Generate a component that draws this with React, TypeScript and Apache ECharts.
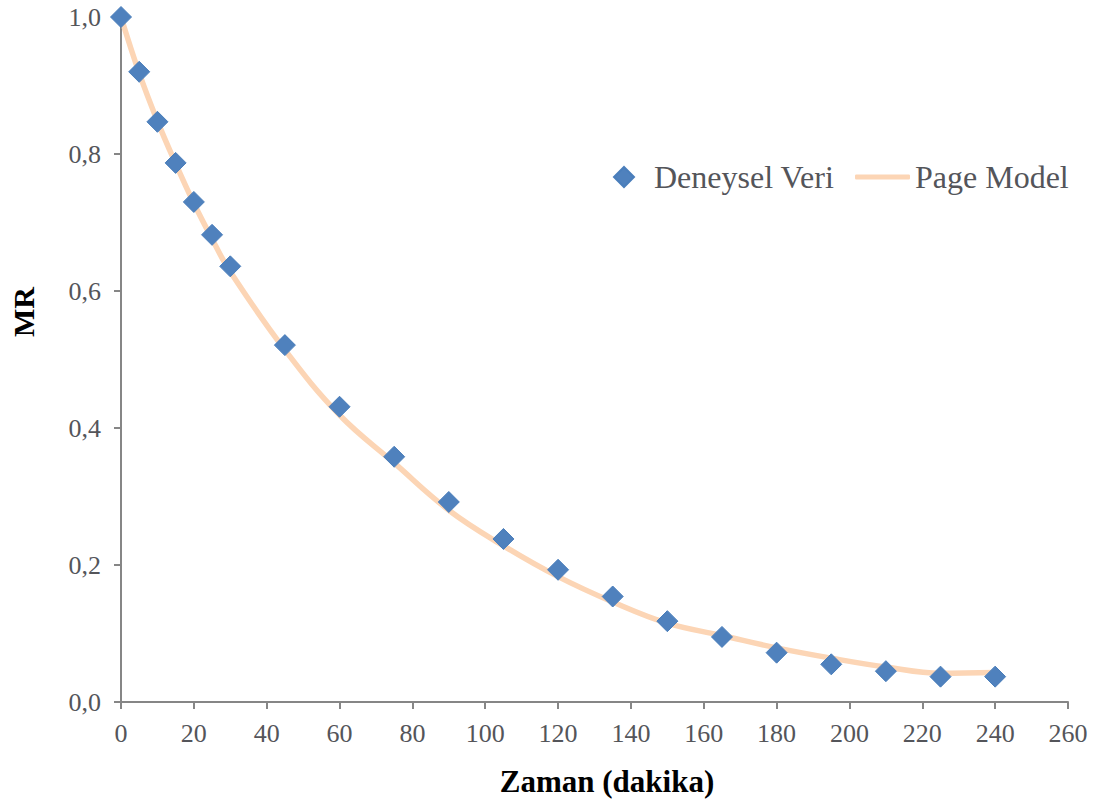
import React, { useEffect, useRef } from "react";
import * as echarts from "echarts";

const times = [0, 5, 10, 15, 20, 25, 30, 45, 60, 75, 90, 105, 120, 135, 150, 165, 180, 195, 210, 225, 240];
const experimental = [1.0, 0.92, 0.847, 0.787, 0.73, 0.682, 0.636, 0.521, 0.431, 0.358, 0.292, 0.238, 0.193, 0.154, 0.118, 0.095, 0.072, 0.055, 0.045, 0.037, 0.037];
const pageModel = [1.0, 0.918, 0.848, 0.786, 0.728, 0.676, 0.628, 0.514, 0.419, 0.349, 0.28, 0.228, 0.183, 0.146, 0.115, 0.097, 0.079, 0.064, 0.051, 0.042, 0.043];
const xTicks = { min: 0, max: 260, interval: 20 };
const yTicks = { min: 0, max: 1, interval: 0.2 };

const FONT = "Liberation Serif";

export default function App() {
  const ref = useRef<HTMLDivElement>(null);
  useEffect(() => {
    if (!ref.current) return;
    const chart = echarts.init(ref.current, undefined, { renderer: "svg" });
    const axisColor = "#868686";
    chart.setOption({
      animation: false,
      grid: { left: 121, right: 38, top: 17, bottom: 98, containLabel: false },
      legend: [
        {
          top: 156,
          left: 608,
          itemWidth: 20,
          itemHeight: 20,
          itemGap: 0,
          textStyle: { fontFamily: FONT, fontSize: 32, padding: [0, 0, 0, 15] },
          data: [{ name: "Deneysel Veri", icon: "diamond" }],
        },
        {
          top: 156,
          left: 850,
          itemWidth: 55,
          itemHeight: 5,
          itemGap: 0,
          textStyle: { fontFamily: FONT, fontSize: 32 },
          data: [{ name: "Page Model", icon: "roundRect" }],
        },
      ],
      xAxis: {
        type: "value",
        min: xTicks.min,
        max: xTicks.max,
        interval: xTicks.interval,
        splitLine: { show: false },
        axisLine: { show: true, lineStyle: { color: axisColor, width: 2 } },
        axisTick: { show: true, length: 7, inside: false, lineStyle: { color: axisColor, width: 2 } },
        axisLabel: { fontSize: 26, fontFamily: FONT, margin: 18 },
      },
      yAxis: {
        type: "value",
        min: yTicks.min,
        max: yTicks.max,
        interval: yTicks.interval,
        splitLine: { show: false },
        axisLine: { show: true, lineStyle: { color: axisColor, width: 2 } },
        axisTick: { show: true, length: 7, inside: false, lineStyle: { color: axisColor, width: 2 } },
        axisLabel: {
          fontSize: 26,
          fontFamily: FONT,
          margin: 20,
          formatter: (v: number) => v.toFixed(1).replace(".", ","),
        },
      },
      graphic: [
        {
          type: "text",
          x: 607,
          y: 781,
          style: {
            text: "Zaman (dakika)",
            fontFamily: FONT,
            fontSize: 31,
            fontWeight: "bold",
            fill: "#000",
            align: "center",
            verticalAlign: "middle",
          },
        },
        {
          type: "text",
          x: 23,
          y: 312,
          rotation: Math.PI / 2,
          style: {
            text: "MR",
            fontFamily: FONT,
            fontSize: 30,
            fontWeight: "bold",
            fill: "#000",
            align: "center",
            verticalAlign: "middle",
          },
        },
      ],
      series: [
        {
          name: "Page Model",
          type: "line",
          data: times.map((t, i) => [t, pageModel[i]]),
          smooth: 0.4,
          symbol: "none",
          lineStyle: { color: "#FCD5B5", width: 5.5 },
          itemStyle: { color: "#FCD5B5" },
          z: 1,
        },
        {
          name: "Deneysel Veri",
          type: "scatter",
          data: times.map((t, i) => [t, experimental[i]]),
          symbol: "diamond",
          symbolSize: 21,
          itemStyle: { color: "#4F81BD", borderColor: "#4A7EBB", borderWidth: 1, opacity: 1 },
          z: 3,
        },
      ],
    });
    return () => chart.dispose();
  }, []);
  return (
    <div
      ref={ref}
      style={{ position: "absolute", left: 0, top: 0, width: 1106, height: 800, background: "#fff" }}
    />
  );
}
